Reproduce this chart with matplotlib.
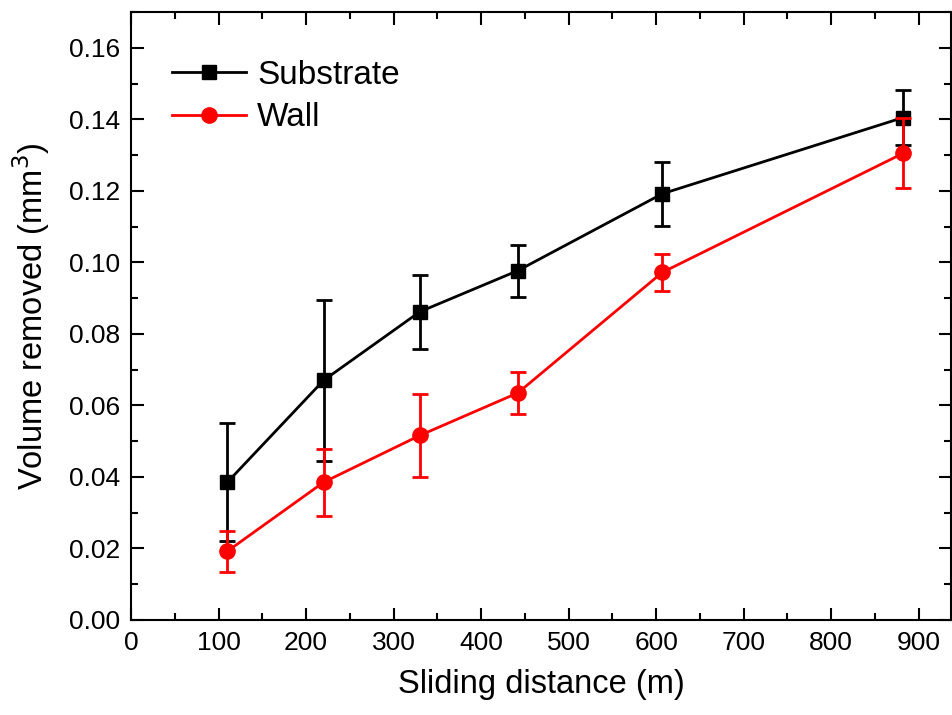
import matplotlib
matplotlib.use('Agg')
import matplotlib.pyplot as plt
from matplotlib.ticker import MultipleLocator, FormatStrFormatter

plt.rcParams['font.family'] = ['Liberation Sans', 'DejaVu Sans']

# sliding distance (m)
distance  = [110, 220, 330, 442, 607, 882]

# volume removed (mm^3) and error
substrate     = [0.0385, 0.0670, 0.0862, 0.0977, 0.1192, 0.1405]
substrate_err = [0.0165, 0.0225, 0.0103, 0.0073, 0.0090, 0.0077]
wall          = [0.0192, 0.0385, 0.0516, 0.0635, 0.0972, 0.1305]
wall_err      = [0.0058, 0.0094, 0.0117, 0.0058, 0.0052, 0.0098]

fig = plt.figure(figsize=(9.53, 7.15), dpi=100)
ax = fig.add_axes([0.1375, 0.133, 0.8605, 0.85])

eb1 = ax.errorbar(distance, substrate, yerr=substrate_err, fmt='-s', color='black',
                  lw=2, markersize=10, capsize=6, capthick=2, elinewidth=2,
                  zorder=3)
eb2 = ax.errorbar(distance, wall, yerr=wall_err, fmt='-o', color='#ff0000',
                  lw=2, markersize=11, capsize=6, capthick=2, elinewidth=2,
                  zorder=4)

ax.set_xlim(0, 937)
ax.set_ylim(0, 0.17)
ax.xaxis.set_major_locator(MultipleLocator(100))
ax.xaxis.set_minor_locator(MultipleLocator(50))
ax.yaxis.set_major_locator(MultipleLocator(0.02))
ax.yaxis.set_minor_locator(MultipleLocator(0.01))
ax.yaxis.set_major_formatter(FormatStrFormatter('%.2f'))

ax.tick_params(which='both', direction='in', top=True, right=True, width=1.5,
               labelsize=19, pad=8)
ax.tick_params(which='major', length=9)
ax.tick_params(which='minor', length=5)
for s in ax.spines.values():
    s.set_linewidth(1.5)

ax.set_xlabel('Sliding distance (m)', fontsize=23.5, labelpad=10)
ax.set_ylabel('Volume removed (mm$^3$)', fontsize=23.5, labelpad=12)

ax.legend([eb1[0], eb2[0]], ['Substrate', 'Wall'], loc='upper left',
          frameon=False, fontsize=24, handlelength=2.2, handletextpad=0.35,
          labelspacing=0.35, borderaxespad=0.0, bbox_to_anchor=(0.034, 0.944))

plt.savefig('out.png', dpi=100)
